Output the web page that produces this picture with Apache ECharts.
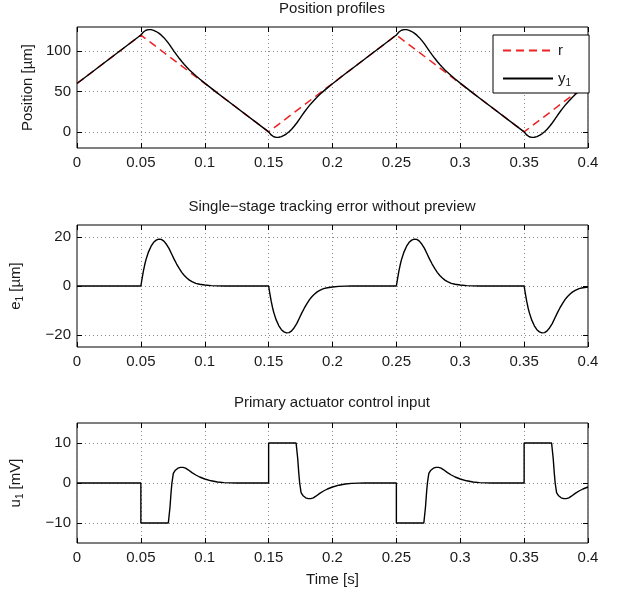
<!DOCTYPE html>
<html><head><meta charset="utf-8">
<script src="https://cdn.jsdelivr.net/npm/echarts@6/dist/echarts.min.js"></script>
<style>html,body{margin:0;padding:0;background:#fff}#c{width:620px;height:595px}</style>
</head><body><div id="c"></div><script>
// ---- tick labels ----
const timeTicks = [0,0.05,0.1,0.15,0.2,0.25,0.3,0.35,0.4];
const posTicks = [0,50,100];
const errTicks = [-20,0,20];
const ctlTicks = [-10,0,10];

// ---- reference r ----
const rTime = [0,0.05,0.15,0.25,0.35,0.4];
const r = [60,120,0,120,0,60];

// ---- output y1 and error e1 (shared time base) ----
const yTime = [0,
0.05,0.051,0.052,0.053,0.054,0.056,0.058,0.06,0.062,0.064,0.066,0.068,0.07,0.072,0.074,0.076,0.078,0.08,0.082,0.084,0.086,0.088,0.09,0.093,0.096,0.1,0.105,0.11,0.115,
0.15,0.151,0.152,0.153,0.154,0.156,0.158,0.16,0.162,0.164,0.166,0.168,0.17,0.172,0.174,0.176,0.178,0.18,0.182,0.184,0.186,0.188,0.19,0.193,0.196,0.2,0.205,0.21,0.215,
0.25,0.251,0.252,0.253,0.254,0.256,0.258,0.26,0.262,0.264,0.266,0.268,0.27,0.272,0.274,0.276,0.278,0.28,0.282,0.284,0.286,0.288,0.29,0.293,0.296,0.3,0.305,0.31,0.315,
0.35,0.351,0.352,0.353,0.354,0.356,0.358,0.36,0.362,0.364,0.366,0.368,0.37,0.372,0.374,0.376,0.378,0.38,0.382,0.384,0.386,0.388,0.39,0.393,0.396,0.4];

const y1 = [60,
120,122.0,123.8,125.1,126.0,126.8,126.7,125.9,124.4,122.4,119.9,116.8,113.1,109.0,104.4,99.8,95.4,91.2,87.2,83.5,80.1,76.8,73.8,69.5,65.5,60.4,54.2,48.0,42,
0,-2.0,-3.8,-5.1,-6.0,-6.8,-6.7,-5.9,-4.4,-2.4,0.1,3.2,6.9,11.0,15.6,20.2,24.6,28.8,32.8,36.5,39.9,43.2,46.2,50.5,54.5,59.6,65.8,72.0,78,
120,122.0,123.8,125.1,126.0,126.8,126.7,125.9,124.4,122.4,119.9,116.8,113.1,109.0,104.4,99.8,95.4,91.2,87.2,83.5,80.1,76.8,73.8,69.5,65.5,60.4,54.2,48.0,42,
0,-2.0,-3.8,-5.1,-6.0,-6.8,-6.7,-5.9,-4.4,-2.4,0.1,3.2,6.9,11.0,15.6,20.2,24.6,28.8,32.8,36.5,39.9,43.2,46.2,50.5,54.5,59.6];

const e1 = [0,
0,3.2,6.2,8.7,10.8,14.0,16.3,17.9,18.8,19.2,19.1,18.4,17.1,15.4,13.2,11.0,9.0,7.2,5.6,4.3,3.3,2.4,1.8,1.1,0.7,0.4,0.15,0.05,0,
0,-3.2,-6.2,-8.7,-10.8,-14.0,-16.3,-17.9,-18.8,-19.2,-19.1,-18.4,-17.1,-15.4,-13.2,-11.0,-9.0,-7.2,-5.6,-4.3,-3.3,-2.4,-1.8,-1.1,-0.7,-0.4,-0.15,-0.05,0,
0,3.2,6.2,8.7,10.8,14.0,16.3,17.9,18.8,19.2,19.1,18.4,17.1,15.4,13.2,11.0,9.0,7.2,5.6,4.3,3.3,2.4,1.8,1.1,0.7,0.4,0.15,0.05,0,
0,-3.2,-6.2,-8.7,-10.8,-14.0,-16.3,-17.9,-18.8,-19.2,-19.1,-18.4,-17.1,-15.4,-13.2,-11.0,-9.0,-7.2,-5.6,-4.3,-3.3,-2.4,-1.8,-1.1,-0.7,-0.4];

// ---- control input u1 ----
const uTime = [0,
0.05,0.05,0.0715,0.0728,0.0736,0.0743,0.0754,0.077,0.079,0.081,0.083,0.085,0.087,0.09,0.093,0.096,0.1,0.105,0.11,0.115,0.12,0.125,
0.15,0.15,0.1715,0.1728,0.1736,0.1743,0.1754,0.177,0.179,0.181,0.183,0.185,0.187,0.19,0.193,0.196,0.2,0.205,0.21,0.215,0.22,0.225,
0.25,0.25,0.2715,0.2728,0.2736,0.2743,0.2754,0.277,0.279,0.281,0.283,0.285,0.287,0.29,0.293,0.296,0.3,0.305,0.31,0.315,0.32,0.325,
0.35,0.35,0.3715,0.3728,0.3736,0.3743,0.3754,0.377,0.379,0.381,0.383,0.385,0.387,0.39,0.393,0.396,0.4];
const u1 = [0,
0,-10,-10,-6,-2.5,0,2.4,3.2,3.7,3.9,3.9,3.7,3.3,2.6,2.0,1.5,1.0,0.55,0.25,0.1,0.03,0,
0,10,10,6,2.5,0,-2.4,-3.2,-3.7,-3.9,-3.9,-3.7,-3.3,-2.6,-2.0,-1.5,-1.0,-0.55,-0.25,-0.1,-0.03,0,
0,-10,-10,-6,-2.5,0,2.4,3.2,3.7,3.9,3.9,3.7,3.3,2.6,2.0,1.5,1.0,0.55,0.25,0.1,0.03,0,
0,10,10,6,2.5,0,-2.4,-3.2,-3.7,-3.9,-3.9,-3.7,-3.3,-2.6,-2.0,-1.5,-1.0];

const zip = (t, v) => t.map((x, i) => [x, v[i]]);

const FONT = "'Liberation Sans', Arial, Helvetica, sans-serif";
const TC = '#1a1a1a';
const FS = 15;
const rich = {
  m: {fontFamily: FONT, fontSize: FS, color: TC},
  s: {fontFamily: FONT, fontSize: 10, color: TC, padding: [9, 0, 0, 0]}
};
const gridLine = {show: true, lineStyle: {color: '#8a8a8a', width: 1, type: [1, 3]}};
const tick = vals => ({show: true, inside: true, length: 5, customValues: vals, lineStyle: {color: '#000', width: 1}});
const noLine = {show: false, onZero: false};
const fmtNum = v => String(+(+v).toFixed(2)).replace('-', '\u2212');

function mainX(gi, withName) {
  const ax = {
    type: 'value', gridIndex: gi, min: 0, max: 0.4, position: 'bottom',
    axisLine: noLine,
    axisTick: tick(timeTicks),
    axisLabel: {customValues: timeTicks, margin: 7, fontFamily: FONT, fontSize: FS, color: TC, formatter: fmtNum},
    splitLine: gridLine
  };
  if (withName) {
    ax.name = 'Time [s]'; ax.nameLocation = 'middle'; ax.nameGap = 29;
    ax.nameTextStyle = {fontFamily: FONT, fontSize: FS, color: TC};
  }
  return ax;
}
function topX(gi) {
  return {type: 'value', gridIndex: gi, min: 0, max: 0.4, position: 'top',
    axisLine: noLine, axisTick: tick(timeTicks), axisLabel: {show: false}, splitLine: {show: false}};
}
function mainY(gi, min, max, ticks, name, gap) {
  return {type: 'value', gridIndex: gi, min: min, max: max, position: 'left',
    axisLine: noLine,
    axisTick: tick(ticks),
    axisLabel: {customValues: ticks, margin: 6, fontFamily: FONT, fontSize: FS, color: TC, formatter: fmtNum},
    splitLine: gridLine,
    name: name, nameLocation: 'middle', nameGap: gap,
    nameTextStyle: {fontFamily: FONT, fontSize: FS, color: TC, rich: rich}};
}
function rightY(gi, min, max, ticks) {
  return {type: 'value', gridIndex: gi, min: min, max: max, position: 'right',
    axisLine: noLine, axisTick: tick(ticks), axisLabel: {show: false}, splitLine: {show: false}};
}

const gridBase = {left: 77, right: 32, show: true, borderColor: '#000', borderWidth: 1, backgroundColor: 'transparent'};
const titleStyle = {fontFamily: FONT, fontSize: FS, fontWeight: 'normal', color: TC};

const option = {
  animation: false,
  backgroundColor: '#fff',
  title: [
    {text: 'Position profiles', left: 332, top: 1, textAlign: 'center', padding: 0, textStyle: titleStyle},
    {text: 'Single\u2212stage tracking error without preview', left: 332, top: 199, textAlign: 'center', padding: 0, textStyle: titleStyle},
    {text: 'Primary actuator control input', left: 332, top: 395, textAlign: 'center', padding: 0, textStyle: titleStyle}
  ],
  grid: [
    Object.assign({top: 27, height: 121}, gridBase),
    Object.assign({top: 225, height: 122}, gridBase),
    Object.assign({top: 423, height: 120}, gridBase)
  ],
  xAxis: [mainX(0, false), mainX(1, false), mainX(2, true), topX(0), topX(1), topX(2)],
  yAxis: [
    mainY(0, -20, 130, posTicks, 'Position [µm]', 42),
    mainY(1, -25, 25, errTicks, '{m|e}{s|1}{m| [µm]}', 52),
    mainY(2, -15, 15, ctlTicks, '{m|u}{s|1}{m| [mV]}', 52),
    rightY(0, -20, 130, posTicks), rightY(1, -25, 25, errTicks), rightY(2, -15, 15, ctlTicks)
  ],
  legend: {
    data: ['r', 'y1'], orient: 'vertical', left: 493, top: 35,
    itemWidth: 50, itemHeight: 14, itemGap: 13,
    padding: [8, 18, 5, 9], borderColor: '#000', borderWidth: 1, backgroundColor: '#fff',
    selectedMode: false,
    itemStyle: {opacity: 0},
    textStyle: {fontFamily: FONT, fontSize: FS, color: TC, rich: rich},
    formatter: n => n === 'y1' ? '{m|y}{s|1}' : '{m|r}'
  },
  series: [
    {name: 'r', type: 'line', xAxisIndex: 0, yAxisIndex: 0, data: zip(rTime, r), symbol: 'none',
      lineStyle: {color: '#ee2222', width: 1.5, type: [8, 5]}, itemStyle: {color: '#ee2222'}, z: 2},
    {name: 'y1', type: 'line', xAxisIndex: 0, yAxisIndex: 0, data: zip(yTime, y1), symbol: 'none',
      lineStyle: {color: '#000', width: 1.4}, itemStyle: {color: '#000'}, z: 3},
    {name: 'e1', type: 'line', xAxisIndex: 1, yAxisIndex: 1, data: zip(yTime, e1), symbol: 'none',
      lineStyle: {color: '#000', width: 1.4}, itemStyle: {color: '#000'}},
    {name: 'u1', type: 'line', xAxisIndex: 2, yAxisIndex: 2, data: zip(uTime, u1), symbol: 'none',
      lineStyle: {color: '#000', width: 1.4}, itemStyle: {color: '#000'}}
  ]
};
const chart = echarts.init(document.getElementById('c'), null, {renderer: 'canvas'});
chart.setOption(option);
</script></body></html>
